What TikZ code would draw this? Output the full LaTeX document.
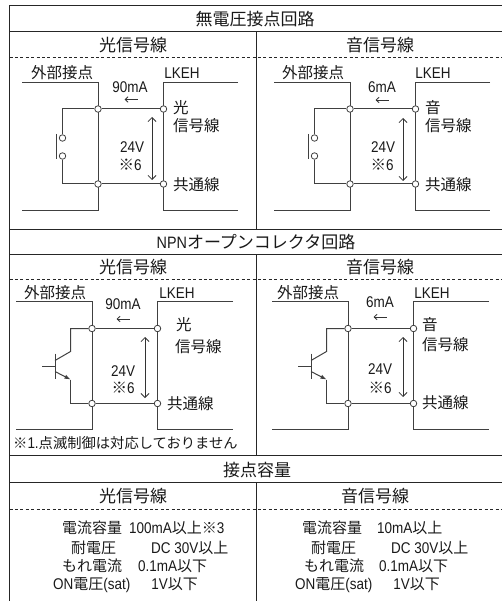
\documentclass[tikz,border=0pt]{standalone}
\usepackage{fontspec}
\setmainfont{Noto Sans CJK JP}
\newfontfamily\lat{Liberation Sans}[FakeStretch=0.87]
\usetikzlibrary{arrows.meta}
\tikzset{
  frame/.style={draw=black!85, line width=1pt},
  dashrule/.style={draw=black!85, line width=0.9pt, dash pattern=on 3pt off 2.4pt},
  wire/.style={draw=black!75, line width=1pt},
  term/.style={circle, draw=black!75, fill=white, line width=0.8pt, inner sep=0pt, minimum size=6.5pt},
  ttl/.style={inner sep=0pt, font=\fontsize{17}{19}\selectfont, text=black!90},
  jt/.style={inner sep=0pt, font=\fontsize{15.5}{17}\selectfont, text=black!90},
  spec/.style={inner sep=0pt, anchor=west, font=\fontsize{15}{17}\selectfont, text=black!90},
  lt/.style={inner sep=0pt, font=\lat\fontsize{15.5}{17}\selectfont, text=black!90},
  va/.style={draw=black!80, line width=0.8pt, {Straight Barb[length=4pt,width=8pt]}-{Straight Barb[length=4pt,width=8pt]}},
  ca/.style={draw=black!80, line width=0.8pt, -{Straight Barb[length=3pt,width=5.5pt]}},
  earrow/.style={draw=black!75, line width=1pt, -{Latex[length=6pt,width=4.5pt]}},
}
\newcommand{\LatT}[1]{{\lat\fontsize{15.5}{17}\selectfont #1}}
% switch (dry contact) panel; origin = top of left vertical
\newcommand{\swpanel}[3]{%
\begin{scope}[shift={(#2,#3)}]
  \coordinate (#1a) at (-76,0);  \coordinate (#1b) at (0,0);
  \coordinate (#1c) at (0,128);  \coordinate (#1d) at (-76,128);
  \coordinate (#1e) at (140,0);  \coordinate (#1f) at (65.5,0);
  \coordinate (#1g) at (65.5,128); \coordinate (#1h) at (140,128);
  \draw[wire] (#1a) -- (#1b) -- (#1c) -- (#1d);
  \draw[wire] (#1e) -- (#1f) -- (#1g) -- (#1h);
  \node[term] (#1t1) at (0,26) {};
  \node[term] (#1t2) at (65.5,26) {};
  \node[term] (#1t3) at (0,101) {};
  \node[term] (#1t4) at (65.5,101) {};
  \draw[wire] (#1t1) -- (#1t2);
  \draw[wire] (#1t3) -- (#1t4);
  \coordinate (#1s1) at (-35.5,26); \coordinate (#1s2) at (-35.5,101);
  \node[term] (#1k1) at (-35.5,55) {};
  \node[term] (#1k2) at (-35.5,73) {};
  \draw[wire] (#1t1) -- (#1s1) -- (#1k1);
  \draw[wire] (#1k2) -- (#1s2) -- (#1t3);
  \coordinate (#1p1) at (-42,51); \coordinate (#1p2) at (-42,76);
  \draw[wire] (#1p1) -- (#1p2);
\end{scope}}
% NPN open collector panel
\newcommand{\npnpanel}[3]{%
\begin{scope}[shift={(#2,#3)}]
  \coordinate (#1a) at (-76,0);  \coordinate (#1b) at (0,0);
  \coordinate (#1c) at (0,128);  \coordinate (#1d) at (-76,128);
  \coordinate (#1e) at (141,0);  \coordinate (#1f) at (65.5,0);
  \coordinate (#1g) at (65.5,128); \coordinate (#1h) at (141,128);
  \draw[wire] (#1a) -- (#1b) -- (#1c) -- (#1d);
  \draw[wire] (#1e) -- (#1f) -- (#1g) -- (#1h);
  \node[term] (#1t1) at (0,27) {};
  \node[term] (#1t2) at (65.5,27) {};
  \node[term] (#1t3) at (0,102) {};
  \node[term] (#1t4) at (65.5,102) {};
  \draw[wire] (#1t1) -- (#1t2);
  \draw[wire] (#1t3) -- (#1t4);
  \coordinate (#1c1) at (-21.5,27); \coordinate (#1c2) at (-21.5,50);
  \coordinate (#1c3) at (-37,59);
  \draw[wire] (#1t1) -- (#1c1) -- (#1c2) -- (#1c3);
  \coordinate (#1p1) at (-37,52); \coordinate (#1p2) at (-37,77);
  \draw[wire] (#1p1) -- (#1p2);
  \coordinate (#1b1) at (-50,64.5); \coordinate (#1b2) at (-37,64.5);
  \draw[wire] (#1b1) -- (#1b2);
  \coordinate (#1e1) at (-37,70); \coordinate (#1e2) at (-21.5,78);
  \coordinate (#1e3) at (-21.5,102);
  \draw[earrow] (#1e1) -- (#1e2);
  \draw[wire] (#1e2) -- (#1e3) -- (#1t3);
\end{scope}}
\begin{document}
\begin{tikzpicture}[x=1pt,y=-1pt]
\useasboundingbox (0,0) rectangle (502,601);
% ---------- table frame ----------
\coordinate (TL) at (9.5,5.5);   \coordinate (TR) at (502,5.5);
\coordinate (BL) at (9.5,601);
\draw[frame] (TR) -- (TL) -- (BL);
\foreach \yy/\nm in {32/r1, 229.5/r2, 254.5/r3, 455.5/r4, 482.5/r5}{
  \coordinate (\nm l) at (9.5,\yy); \coordinate (\nm r) at (502,\yy);
  \draw[frame] (\nm l) -- (\nm r);
}
\foreach \yy/\nm in {57/d1, 279/d2, 509/d3}{
  \coordinate (\nm l) at (9.5,\yy); \coordinate (\nm r) at (502,\yy);
  \draw[dashrule] (\nm l) -- (\nm r);
}
\coordinate (v1a) at (256,32);    \coordinate (v1b) at (256,229.5);
\coordinate (v2a) at (256,254.5); \coordinate (v2b) at (256,455.5);
\coordinate (v3a) at (256,482.5); \coordinate (v3b) at (256,601);
\draw[frame] (v1a) -- (v1b);
\draw[frame] (v2a) -- (v2b);
\draw[frame] (v3a) -- (v3b);

% ---------- titles / headers ----------
\node[ttl] (title1) at (255,19) {無電圧接点回路};
\node[ttl] (h1l) at (133,45) {光信号線};
\node[ttl] (h1r) at (380,45) {音信号線};
\node[ttl] (title2) at (256,242) {{\lat\fontsize{16.5}{18}\selectfont NPN}オープンコレクタ回路};
\node[ttl] (h2l) at (133,267) {光信号線};
\node[ttl] (h2r) at (380,267) {音信号線};
\node[ttl] (title3) at (257,470) {接点容量};
\node[ttl] (h3l) at (133,496) {光信号線};
\node[ttl] (h3r) at (375,496) {音信号線};

% ---------- circuits ----------
\swpanel{A}{98}{83}
\swpanel{B}{350}{83}
\npnpanel{C}{92}{301.5}
\npnpanel{D}{348}{301.5}

% panel A texts
\node[jt] (Aext) at (62,73) {外部接点};
\node[lt] (Alk) at (182,73) {LKEH};
\node[lt] (Acur) at (130,87) {90mA};
\coordinate (Aa1) at (137.5,99.5); \coordinate (Aa2) at (124.5,99.5);
\draw[ca] (Aa1) -- (Aa2);
\node[lt] (Av) at (132,147) {24V};
\node[jt] (An) at (130,165) {※\LatT{6}};
\node[jt, anchor=west] (As1) at (173,108) {光};
\node[jt, anchor=west] (As2) at (173,126) {信号線};
\node[jt, anchor=west] (As3) at (173,185) {共通線};
\coordinate (Ava) at (152,117); \coordinate (Avb) at (152,180);
\draw[va] (Ava) -- (Avb);

% panel B texts
\node[jt] (Bext) at (313,73) {外部接点};
\node[lt] (Blk) at (433,73) {LKEH};
\node[lt] (Bcur) at (382,87) {6mA};
\coordinate (Ba1) at (388.5,100); \coordinate (Ba2) at (375.5,100);
\draw[ca] (Ba1) -- (Ba2);
\node[lt] (Bv) at (383,147) {24V};
\node[jt] (Bn) at (382,165) {※\LatT{6}};
\node[jt, anchor=west] (Bs1) at (425,108) {音};
\node[jt, anchor=west] (Bs2) at (425,126) {信号線};
\node[jt, anchor=west] (Bs3) at (425,185) {共通線};
\coordinate (Bva) at (403,118); \coordinate (Bvb) at (403,181);
\draw[va] (Bva) -- (Bvb);

% panel C texts
\node[jt] (Cext) at (55,293) {外部接点};
\node[lt] (Clk) at (177,293) {LKEH};
\node[lt] (Ccur) at (123,304) {90mA};
\coordinate (Ca1) at (129.5,319); \coordinate (Ca2) at (116.5,319);
\draw[ca] (Ca1) -- (Ca2);
\node[lt] (Cv) at (123,371) {24V};
\node[jt] (Cn) at (123,388) {※\LatT{6}};
\node[jt, anchor=west] (Cs1) at (176,325) {光};
\node[jt, anchor=west] (Cs2) at (175,347) {信号線};
\node[jt, anchor=west] (Cs3) at (167,404) {共通線};
\coordinate (Cva) at (145,337); \coordinate (Cvb) at (145,398);
\draw[va] (Cva) -- (Cvb);
\node[jt, anchor=west, font=\fontsize{14.3}{16}\selectfont] (Cfoot) at (13,443) {※\LatT{1.}点滅制御は対応しておりません};

% panel D texts
\node[jt] (Dext) at (308,293) {外部接点};
\node[lt] (Dlk) at (432,293) {LKEH};
\node[lt] (Dcur) at (380,302) {6mA};
\coordinate (Da1) at (386.5,317); \coordinate (Da2) at (373.5,317);
\draw[ca] (Da1) -- (Da2);
\node[lt] (Dv) at (380,369) {24V};
\node[jt] (Dn) at (380,388) {※\LatT{6}};
\node[jt, anchor=west] (Ds1) at (422,325) {音};
\node[jt, anchor=west] (Ds2) at (422,345) {信号線};
\node[jt, anchor=west] (Ds3) at (422,403) {共通線};
\coordinate (Dva) at (403,337); \coordinate (Dvb) at (403,397);
\draw[va] (Dva) -- (Dvb);

% ---------- contact ratings ----------
\node[spec] (L1) at (62,528) {電流容量\hspace{7pt}\LatT{100mA}以上※\LatT{3}};
\node[spec] (L2) at (71,548) {耐電圧\hspace{35pt}\LatT{DC 30V}以上};
\node[spec] (L3) at (62,566) {もれ電流\hspace{16pt}\LatT{0.1mA}以下};
\node[spec] (L4) at (53,585) {\LatT{ON}電圧\LatT{(sat)}\hspace{21pt}\LatT{1V}以下};
\node[spec] (R1) at (302,528) {電流容量\hspace{15pt}\LatT{10mA}以上};
\node[spec] (R2) at (311,548) {耐電圧\hspace{35pt}\LatT{DC 30V}以上};
\node[spec] (R3) at (304,566) {もれ電流\hspace{15pt}\LatT{0.1mA}以下};
\node[spec] (R4) at (295,585) {\LatT{ON}電圧\LatT{(sat)}\hspace{21pt}\LatT{1V}以下};
\end{tikzpicture}
\end{document}
